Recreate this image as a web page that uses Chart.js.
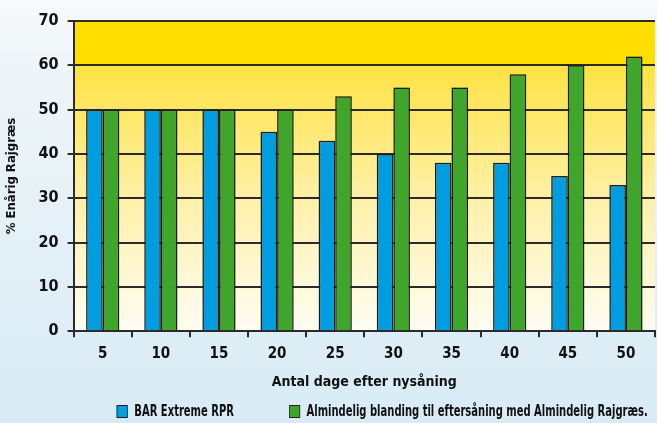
<!DOCTYPE html>
<html>
<head>
<meta charset="utf-8">
<script src="https://cdn.jsdelivr.net/npm/chart.js@4"></script>
<style>
  html, body { margin: 0; padding: 0; }
  #wrap { position: relative; width: 657px; height: 423px; overflow: hidden; }
  #legend {
    position: absolute; right: 9px; top: 402px;
    display: flex; justify-content: flex-end;
    transform: scaleX(0.74); transform-origin: right center;
    font: bold 15px 'DejaVu Sans Condensed', 'DejaVu Sans', sans-serif;
    font-stretch: condensed; color: #111;
  }
  #legend .item { display: flex; align-items: center; margin-left: 74px; white-space: nowrap; }
  #legend .box { width: 13px; height: 11px; border: 1.5px solid #222; margin-right: 9px; }
</style>
</head>
<body>
<div id="wrap">
  <canvas id="chart" width="657" height="423"></canvas>
  <div id="legend"></div>
</div>
<script>
// Data
const days = ['5', '10', '15', '20', '25', '30', '35', '40', '45', '50'];
const barExtreme = [50, 50, 50, 45, 43, 40, 38, 38, 35, 33];
const almindelig = [50, 50, 50, 50, 53, 55, 55, 58, 60, 62];
const seriesNames = ['BAR Extreme RPR', 'Almindelig blanding til eftersåning med Almindelig Rajgræs.'];

const font = "'DejaVu Sans Condensed', 'DejaVu Sans'";
const dark = '#2b2b2b';

// Paints the page background and the yellow plot band
const backdrop = {
    id: 'backdrop',
    beforeDraw(chart) {
        const ctx = chart.ctx;
        const w = chart.width, h = chart.height;
        ctx.save();
        const bg = ctx.createLinearGradient(0, 0, 0, h);
        bg.addColorStop(0, '#f8fafb');
        bg.addColorStop(0.15, '#eef5f9');
        bg.addColorStop(1, '#d8ebf5');
        ctx.fillStyle = bg;
        ctx.fillRect(0, 0, w, h);

        const a = chart.chartArea;
        const y = chart.scales.y;
        const y60 = y.getPixelForValue(60);
        ctx.fillStyle = '#ffde00';
        ctx.fillRect(a.left, a.top, a.right - a.left, y60 - a.top);
        const g = ctx.createLinearGradient(0, y60, 0, a.bottom);
        g.addColorStop(0, '#ffe243');
        g.addColorStop(0.5, '#fff0a8');
        g.addColorStop(1, '#fffdf3');
        ctx.fillStyle = g;
        ctx.fillRect(a.left, y60, a.right - a.left, a.bottom - y60);
        ctx.restore();
    }
};

// Soft dark halo round the bars
const barShadow = {
    id: 'barShadow',
    beforeDatasetsDraw(chart) {
        const ctx = chart.ctx;
        ctx.save();
        ctx.shadowColor = 'rgba(0, 0, 0, 0.35)';
        ctx.shadowBlur = 3;
    },
    afterDatasetsDraw(chart) {
        chart.ctx.restore();
    }
};

// Builds the legend below the chart from the chart's own legend items
const htmlLegend = {
    id: 'htmlLegend',
    afterUpdate(chart) {
        const box = document.getElementById('legend');
        box.innerHTML = '';
        chart.options.plugins.legend.labels.generateLabels(chart).forEach(item => {
            const el = document.createElement('div');
            el.className = 'item';
            const sw = document.createElement('span');
            sw.className = 'box';
            sw.style.background = item.fillStyle;
            const tx = document.createElement('span');
            tx.textContent = item.text;
            el.appendChild(sw);
            el.appendChild(tx);
            box.appendChild(el);
        });
    }
};

new Chart(document.getElementById('chart').getContext('2d'), {
    type: 'bar',
    data: {
        labels: days,
        datasets: [{
            label: seriesNames[0],
            data: barExtreme,
            backgroundColor: '#009ee0',
            borderColor: '#222',
            borderWidth: 1.5,
            barPercentage: 1,
            categoryPercentage: 0.57
        }, {
            label: seriesNames[1],
            data: almindelig,
            backgroundColor: '#3fa62b',
            borderColor: '#222',
            borderWidth: 1.5,
            barPercentage: 1,
            categoryPercentage: 0.57
        }]
    },
    options: {
        responsive: false,
        devicePixelRatio: 1,
        animation: false,
        layout: { padding: { top: 21, right: 2, left: 4, bottom: 32 } },
        plugins: {
            tooltip: { enabled: false },
            legend: { display: false }
        },
        scales: {
            x: {
                grid: {
                    drawOnChartArea: false,
                    drawTicks: true,
                    tickLength: 6,
                    color: dark,
                    lineWidth: 2
                },
                border: { color: dark, width: 2 },
                ticks: {
                    color: '#111',
                    padding: 8,
                    font: { family: font, size: 15, weight: 'bold' }
                },
                title: {
                    display: true,
                    text: 'Antal dage efter nysåning',
                    color: '#111',
                    padding: { top: 3, bottom: 0 },
                    font: { family: font, size: 14, weight: 'bold' }
                }
            },
            y: {
                min: 0,
                max: 70,
                ticks: {
                    stepSize: 10,
                    color: '#111',
                    padding: 9,
                    font: { family: font, size: 16, weight: 'bold' }
                },
                grid: {
                    color: dark,
                    lineWidth: 2,
                    tickLength: 6
                },
                border: { color: dark, width: 2 },
                title: {
                    display: true,
                    text: '% Enårig Rajgræs',
                    color: '#111',
                    padding: { top: 0, bottom: 10 },
                    font: { family: font, size: 13, weight: 'bold' }
                }
            }
        }
    },
    plugins: [backdrop, barShadow, htmlLegend]
});
</script>
</body>
</html>
